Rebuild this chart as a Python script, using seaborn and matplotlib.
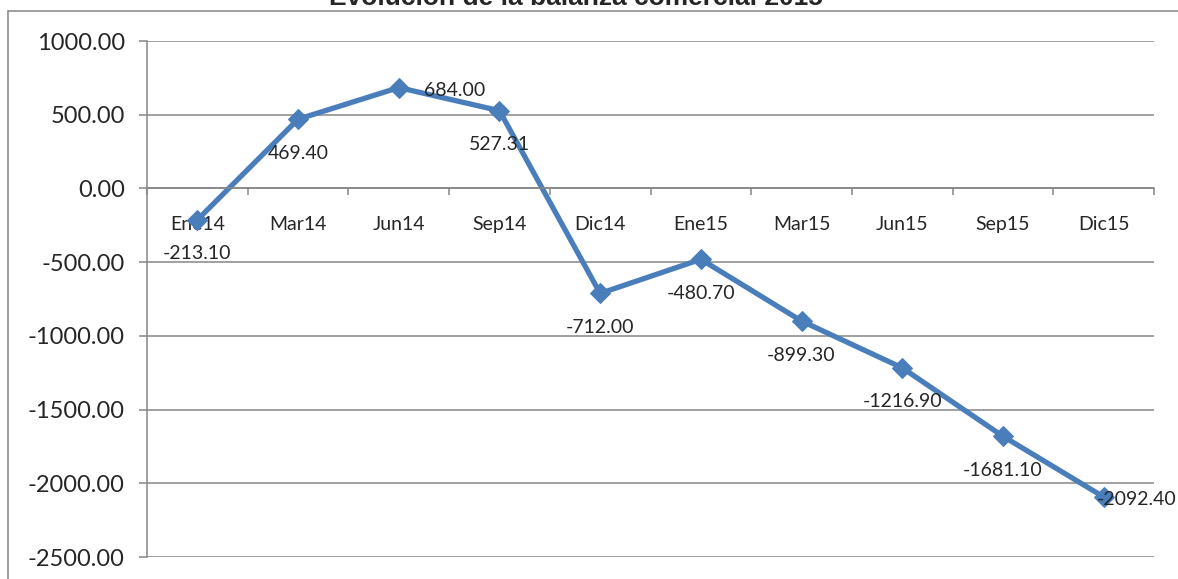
import matplotlib
matplotlib.use("Agg")
import matplotlib.pyplot as plt
from matplotlib.lines import Line2D
from matplotlib.ticker import FormatStrFormatter, FixedLocator
import seaborn as sns
import pandas as pd
import numpy as np

# ---- data ----
categories = ["Ene14", "Mar14", "Jun14", "Sep14", "Dic14",
              "Ene15", "Mar15", "Jun15", "Sep15", "Dic15"]
values = [-213.10, 469.40, 684.00, 527.31, -712.00,
          -480.70, -899.30, -1216.90, -1681.10, -2092.40]
value_labels = ["-213.10", "469.40", "684.00", "527.31", "-712.00",
                "-480.70", "-899.30", "-1216.90", "-1681.10", "-2092.40"]
y_ticks = [1000, 500, 0, -500, -1000, -1500, -2000, -2500]
title = "Evolución de la balanza comercial 2015"

# label placement (style)
label_pos = ["below", "below", "right", "below", "below",
             "below", "below", "below", "below", "right_tight"]

sns.set_style("white")
plt.rcParams['font.family'] = ['Lato', 'DejaVu Sans']

W, H = 1178, 579
fig = plt.figure(figsize=(W / 100, H / 100), dpi=100)
ax = fig.add_axes([147 / W, 1 - 557 / H, (1154 - 147) / W, (557 - 41) / H])

df = pd.DataFrame({"cat": categories, "val": values})
line_color = "#4A7EBB"
sns.lineplot(data=df, x="cat", y="val", ax=ax, color=line_color,
             linewidth=3.8, marker="D", markersize=10.5,
             markeredgecolor=line_color, markerfacecolor=line_color,
             sort=False)

ax.set_xlim(-0.5, len(categories) - 0.5)
ax.set_ylim(-2500, 1000)
ax.yaxis.set_major_locator(FixedLocator(y_ticks))
ax.yaxis.set_major_formatter(FormatStrFormatter("%.2f"))
ax.grid(axis="y", color="#868686", linewidth=1.1)
ax.set_axisbelow(True)
ax.set_xlabel("")
ax.set_ylabel("")

for s in ["top", "right"]:
    ax.spines[s].set_visible(False)
ax.spines["left"].set_color("#868686")
ax.spines["left"].set_linewidth(1.1)
ax.spines["bottom"].set_position(("data", 0))
ax.spines["bottom"].set_color("#868686")
ax.spines["bottom"].set_linewidth(1.1)

ax.tick_params(axis="y", direction="out", length=6, width=1.1, color="#868686",
               labelsize=17, pad=10, left=True)
ax.tick_params(axis="x", which="major", length=0, labelsize=14, pad=20,
               bottom=True)
ax.set_xticks(np.arange(-0.5, len(categories) + 0.5, 1.0), minor=True)
ax.tick_params(axis="x", which="minor", direction="out", length=5, width=1.1,
               color="#868686", bottom=True)

for i, (v, txt, pos) in enumerate(zip(values, value_labels, label_pos)):
    if pos == "below":
        ax.annotate(txt, (i, v), xytext=(0, -34), textcoords="offset pixels",
                    ha="center", va="center", fontsize=14)
    elif pos == "right":
        ax.annotate(txt, (i, v), xytext=(25, -3), textcoords="offset pixels",
                    ha="left", va="center", fontsize=14)
    else:
        ax.annotate(txt, (i, v), xytext=(-7, -3), textcoords="offset pixels",
                    ha="left", va="center", fontsize=14, annotation_clip=False)

fig.text(576 / W, 1 - 5 / H, title, ha="center", va="baseline",
         fontsize=19, fontweight="bold", family=["Liberation Sans", "DejaVu Sans"])

# outer chart-area frame
fig.add_artist(Line2D([8 / W, 8 / W], [0, 1 - 11 / H], transform=fig.transFigure,
                      color="#868686", linewidth=1.1))
fig.add_artist(Line2D([8 / W, 1], [1 - 11 / H, 1 - 11 / H], transform=fig.transFigure,
                      color="#868686", linewidth=1.1))

fig.savefig("out.png", dpi=100)
